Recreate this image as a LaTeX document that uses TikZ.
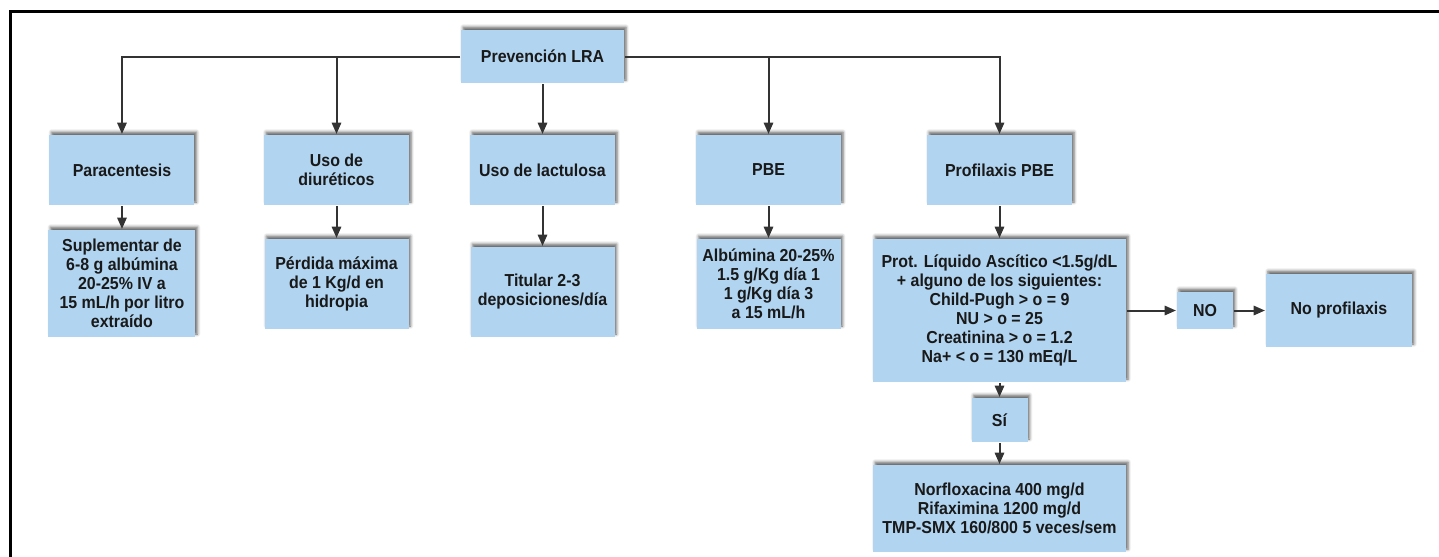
\documentclass[tikz,border=0pt]{standalone}
\usepackage{fontspec}
\setmainfont[FakeStretch=0.92]{Liberation Sans}
\usetikzlibrary{arrows.meta,positioning,shadows.blur}
\definecolor{boxblue}{HTML}{B1D4F0}
\definecolor{linegray}{HTML}{333333}

\begin{document}
\begin{tikzpicture}[x=0.75pt,y=-0.75pt,->,>={Triangle[length=8.5pt,width=7pt]},on grid,
line width=1.5pt,draw=linegray,
every node/.style={font=\bfseries\fontsize{13}{14.3}\selectfont,align=center,text=black!90},
box/.style={fill=boxblue,draw=none,inner sep=0pt,minimum width=108.75pt,minimum height=52.5pt,
  blur shadow={shadow xshift=1.5pt,shadow yshift=2.2pt,shadow blur radius=2.2pt,shadow opacity=60}},
tall/.style={box,minimum width=108pt,minimum height=67.5pt},
wide/.style={box,minimum width=189.75pt},
tiny/.style={box,minimum width=42pt}]
\useasboundingbox (0,0) rectangle (1439,557);
\draw[-,line width=2.25pt,black] (10,570) |- (1450,11);

\node[box,minimum width=122.25pt,minimum height=39.75pt] (root) at (542.5,56.5) {Prevención LRA};
\node[box] (lact) [below=85.1pt of root] {Uso de lactulosa};
\node[box] (diur) [left=154.5pt of lact] {Uso de\\diuréticos};
\node[box] (para) [left=160.9pt of diur] {Paracentesis};
\node[box] (pbe) [right=169.5pt of lact] {PBE};
\node[box] (prof) [right=173.25pt of pbe] {Profilaxis PBE};

\node[tall,minimum width=110.25pt,minimum height=80.25pt] (paraL2) [below=85.1pt of para]
  {Suplementar de\\6-8 g albúmina\\20-25\% IV a\\15 mL/h por litro\\extraído};
\node[tall] (diurL2) [below=85.5pt of diur] {Pérdida máxima\\de 1 Kg/d en\\hidropia};
\node[tall] (lactL2) [below=91.5pt of lact] {Titular 2-3\\deposiciones/día};
\node[tall] (pbeL2) [below=85.5pt of pbe] {Albúmina 20-25\%\\1.5 g/Kg día 1\\1 g/Kg día 3\\a 15 mL/h};
\node[wide,minimum height=107.25pt] (prot) [below=105.4pt of prof]
  {Prot. Líquido Ascítico <1.5g/dL\\+ alguno de los siguientes:\\Child-Pugh > o = 9\\NU > o = 25\\Creatinina > o = 1.2\\Na+ < o = 130 mEq/L};
\node[tiny,minimum height=27.75pt] (no) [right=154.1pt of prot] {NO};
\node[box,minimum width=109.5pt,minimum height=54.75pt] (noprof) [right=100.5pt of no] {No profilaxis};
\node[tiny,minimum height=33pt] (si) [below=82.1pt of prot] {Sí};
\node[wide,minimum height=65.25pt] (norf) [below=66.4pt of si]
  {Norfloxacina 400 mg/d\\Rifaximina 1200 mg/d\\TMP-SMX 160/800 5 veces/sem};

% ramas de la raiz
\draw (root.west) -| (para);
\draw (root.west) -| (diur);
\draw (root.east) -| (pbe);
\draw (root.east) -| (prof);
\path (root) edge (lact)
  (para) edge (paraL2)
  (diur) edge (diurL2)
  (lact) edge (lactL2)
  (pbe) edge (pbeL2)
  (prof) edge (prot)
  (prot) edge (no)
  (no) edge (noprof)
  (prot) edge (si)
  (si) edge (norf);
\end{tikzpicture}
\end{document}
